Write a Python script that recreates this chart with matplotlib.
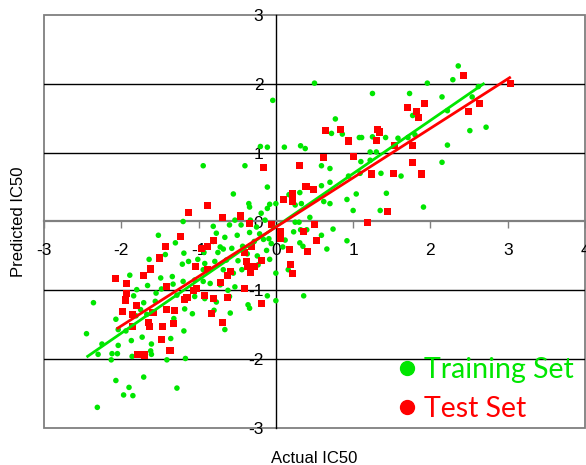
import matplotlib
matplotlib.use("Agg")
import matplotlib.pyplot as plt
from matplotlib.lines import Line2D
from matplotlib.patches import Rectangle

plt.rcParams['font.family'] = ['Liberation Sans', 'DejaVu Sans']
plt.rcParams['axes.unicode_minus'] = False

# ---- data ----
train_x = [-1.52, -1.43, -1.89, -1.64, -1.49, -1.66, -1.80, -1.55, -1.48, -2.36, -1.84, -1.71, -1.56,
           -1.75, -1.81, -1.67, -2.07, -2.04, -2.45, -1.94, -1.73, -1.87, -2.25, -2.04, -1.61, -1.62,
           -2.30, -2.12, -2.05, -1.86, -1.61, -2.13, -1.41, -2.07, -1.71, -1.90, -1.97, -1.85, -2.31,
           -1.30, -0.77, -0.66, -0.50, -0.34, -0.21, -0.09, -0.81, -0.72, -0.68, -0.57, -0.43, -0.28,
           -1.19, -0.93, -0.75, -0.37, -0.24, -0.12, -1.21, -1.13, -1.01, -0.92, -0.79, -0.64, -0.49,
           -0.23, -0.94, -0.68, -0.55, -0.44, -0.08, 0.00, -1.34, -1.20, -1.05, -0.94, -0.85, -0.72,
           -0.62, -0.53, -1.33, -1.28, -1.18, -1.05, -0.92, -0.77, -0.60, -0.36, -0.34, -0.11, 0.00,
           -1.18, -1.08, -0.80, -0.59, -1.32, -1.19, -0.66, -1.36, -1.17, -1.28,
           -0.04, -0.20, -0.11, -0.94, -0.40, -0.11, -0.55, -0.35, -0.34, -0.08, 0.00, -0.11, -0.19,
           -0.53, -1.20, -0.81, -0.60, -0.33, -0.14, -0.16, -0.06, -0.25, -0.45,
           1.22, 1.30, 0.59, 0.70, 1.10, 1.22, 1.36, 1.09, 0.94, 0.70, 0.59, 0.31, 0.17, 0.33, 0.62,
           0.70, 0.25, 0.92, 1.04, 1.00, 1.35, 1.43, 0.44, 0.25, 0.30, 0.23, 0.32, 0.40, 0.74, 0.59,
           0.12, 0.31, 0.35, 0.09, 0.66, 0.92, 0.16, 0.36,
           0.50, 1.25, 0.77, 0.72, 0.86, 1.08, 1.11, 1.25, 1.42, 0.11, 0.32, 0.38,
           2.36, 2.29, 1.96, 2.62, 1.73, 2.15, 2.54, 1.77, 2.22, 2.72, 2.51, 1.58, 1.71, 1.80, 2.22,
           2.15, 1.62, 1.91]
train_y = [-0.20, -0.48, -0.78, -0.55, -0.82, -0.93, -0.99, -1.04, -0.98, -1.18, -1.08, -1.18, -1.16,
           -1.28, -1.37, -1.35, -1.42, -1.57, -1.63, -1.59, -1.68, -1.73, -1.78, -1.80, -1.78, -1.88,
           -1.93, -1.92, -1.92, -1.96, -1.93, -2.01, -2.01, -2.31, -2.26, -2.41, -2.52, -2.53, -2.70,
           -0.31, -0.17, -0.23, -0.20, -0.16, -0.18, -0.25, -0.29, -0.37, -0.40, -0.39, -0.36, -0.29,
           -0.46, -0.45, -0.45, -0.47, -0.50, -0.42, -0.62, -0.58, -0.55, -0.61, -0.58, -0.56, -0.57,
           -0.63, -0.70, -0.70, -0.75, -0.70, -0.55, -0.75, -0.80, -0.87, -0.85, -0.87, -0.90, -0.92,
           -1.00, -0.95, -0.91, -1.07, -1.12, -1.09, -1.12, -1.17, -1.09, -1.21, -1.26, -1.08, -1.15,
           -1.27, -1.34, -1.29, -1.33, -1.41, -1.59, -1.57, -1.70, -1.99, -2.42,
           1.76, 1.09, 1.08, 0.81, 0.81, 0.50, 0.40, 0.26, 0.21, 0.25, 0.26, 0.19, 0.12,
           0.02, 0.00, -0.07, -0.05, 0.02, 0.02, -0.26, -0.32, -0.08, -0.05,
           1.01, 1.01, 0.81, 0.77, 0.87, 0.89, 0.70, 0.70, 0.66, 0.57, 0.52, 0.42, 0.39, 0.26, 0.29,
           0.26, 0.24, 0.32, 0.40, 0.16, 0.16, 0.41, 0.06, -0.01, -0.01, -0.15, -0.12, -0.12, -0.11, -0.20,
           -0.27, -0.31, -0.36, -0.37, -0.40, -0.28, -0.70, -1.08,
           2.01, 1.86, 1.49, 1.28, 1.27, 1.22, 1.22, 1.23, 1.22, 1.08, 1.10, 1.06,
           2.26, 2.06, 2.01, 1.96, 1.86, 1.81, 1.81, 1.54, 1.61, 1.37, 1.32, 1.21, 1.22, 1.26, 1.11,
           0.86, 0.66, 0.21]

test_x = [-1.43, -1.50, -1.62, -1.71, -2.07, -1.93, -1.42, -1.93, -1.94, -1.80, -1.41, -1.98, -1.86,
          -1.59, -1.65, -1.64, -1.86, -1.47, -1.48, -1.79, -1.70, -1.37,
          -1.23, -0.81, -0.88, -0.96, -0.32, -0.40, -1.04, -0.88, -0.59, -0.63, -0.38, -0.36, -0.28,
          -0.33, -0.19, -0.72, -1.03, -1.07, -0.41, -0.92, -0.81, -0.63, -1.15, -1.18, -0.18, -1.31,
          -0.83, -0.69, -1.32,
          -0.16, -0.88, -1.13, -0.46, -0.69, -0.34, -0.06,
          0.62, 1.00, 0.30, 1.24, 0.39, 0.49, 0.22, 0.10, 0.22, 1.44, 0.50, 0.36, 1.18, 0.06, 0.06,
          0.53, 0.18, 0.41, 0.19, 0.22,
          0.64, 0.84, 0.94, 1.32, 1.34, 1.30,
          2.43, 3.04, 1.92, 1.70, 1.82, 1.85, 2.63, 2.49, 1.77, 1.53, 1.77, 1.52, 1.88]
test_y = [-0.36, -0.53, -0.69, -0.79, -0.83, -0.90, -0.95, -1.04, -1.14, -1.22, -1.28, -1.31, -1.35,
          -1.32, -1.47, -1.53, -1.52, -1.53, -1.71, -1.93, -1.94, -1.87,
          -0.22, -0.27, -0.36, -0.39, -0.36, -0.45, -0.65, -0.70, -0.73, -0.78, -0.58, -0.65, -0.65,
          -0.74, -0.56, -0.89, -0.97, -1.00, -0.97, -1.07, -1.12, -1.10, -1.10, -1.13, -1.19, -1.29,
          -1.34, -1.47, -1.48,
          0.78, 0.23, 0.13, 0.08, 0.06, -0.03, -0.04,
          0.93, 0.94, 0.81, 0.69, 0.51, 0.46, 0.40, 0.32, 0.29, 0.15, -0.04, -0.14, -0.01, -0.14, -0.24,
          -0.27, -0.41, -0.44, -0.62, -0.75,
          1.32, 1.33, 1.17, 1.33, 1.30, 1.18,
          2.12, 2.01, 1.72, 1.65, 1.60, 1.51, 1.72, 1.60, 1.10, 1.10, 0.86, 0.70, 0.69]

train_fit_x = [-2.45, 2.70]
train_fit_y = [-1.97, 2.01]
test_fit_x = [-2.06, 3.04]
test_fit_y = [-1.56, 2.10]

x_ticks = [-3, -2, -1, 0, 1, 2, 3, 4]
y_ticks = [-3, -2, -1, 0, 1, 2, 3]
grid_y = [-2, -1, 1, 2]

series_labels = ['Training Set', 'Test Set']
GREEN = '#00E600'
RED = '#FF0000'

# ---- figure ----
fig = plt.figure(figsize=(5.86, 4.65), dpi=100)
ax = fig.add_axes([44 / 586, 1 - 428 / 465, 541 / 586, 413 / 465])
ax.set_xlim(-3, 4)
ax.set_ylim(-3, 3)

for gy in grid_y:
    ax.axhline(gy, color='black', lw=1.0, zorder=1)

ax.scatter(train_x, train_y, s=16, marker='o', color=GREEN, edgecolors='none', zorder=3)
ax.scatter(test_x, test_y, s=26, marker='s', color=RED, edgecolors='none', zorder=4)
ax.plot(train_fit_x, train_fit_y, color=GREEN, lw=2.0, zorder=5, solid_capstyle='butt')
ax.plot(test_fit_x, test_fit_y, color=RED, lw=2.0, zorder=6, solid_capstyle='butt')

# axes through the origin
ax.spines['left'].set_position(('data', 0))
ax.spines['bottom'].set_position(('data', 0))
ax.spines['left'].set_color('black')
ax.spines['left'].set_linewidth(1.0)
ax.spines['bottom'].set_color('#808080')
ax.spines['bottom'].set_linewidth(1.6)
ax.spines['top'].set_visible(False)
ax.spines['right'].set_visible(False)
ax.add_patch(Rectangle((0, 0), 1, 1, transform=ax.transAxes, fill=False,
                       edgecolor='#7f7f7f', lw=1.3, clip_on=False, zorder=0))

ax.set_xticks(x_ticks)
ax.set_xticklabels([str(v) for v in x_ticks])
ax.set_yticks(y_ticks)
ax.set_yticklabels([str(v) for v in y_ticks])
ax.tick_params(axis='x', direction='out', length=5, width=1, color='#808080', pad=10.5,
               labelsize=12.5, labelcolor='black')
ax.tick_params(axis='y', length=0, pad=9, labelsize=12.5, labelcolor='black')

ax.text(0.5, -0.073, 'Actual IC50', transform=ax.transAxes, ha='center', va='center',
        fontsize=12)
ax.text(-0.048, 0.5, 'Predicted IC50', transform=ax.transAxes, ha='center', va='center',
        rotation=90, fontsize=12)

handles = [Line2D([], [], marker='o', ls='', color=GREEN, markersize=10),
           Line2D([], [], marker='o', ls='', color=RED, markersize=10)]
leg = ax.legend(handles, series_labels, loc='upper left', bbox_to_anchor=(0.656, 0.173),
                frameon=False, borderpad=0, borderaxespad=0, handlelength=0.55,
                handletextpad=0.34, labelspacing=0.48,
                prop={'family': 'Lato', 'size': 20.5})
for t, c in zip(leg.get_texts(), [GREEN, RED]):
    t.set_color(c)

fig.savefig('out.png', dpi=100)
